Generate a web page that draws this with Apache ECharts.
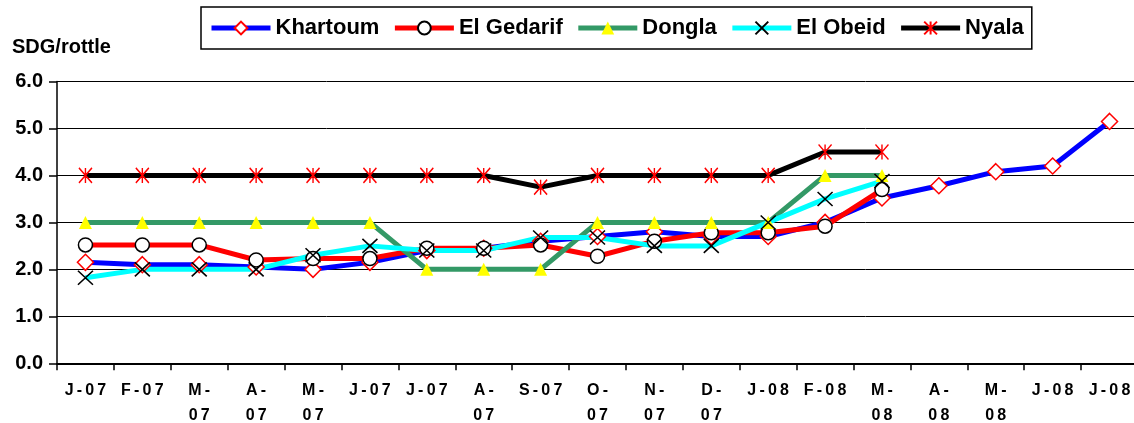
<!DOCTYPE html>
<html>
<head>
<meta charset="utf-8">
<script src="https://cdn.jsdelivr.net/npm/echarts@6/dist/echarts.min.js"></script>
<style>
  html, body { margin: 0; padding: 0; background: #fff; }
  #chart { width: 1134px; height: 423px; }
</style>
</head>
<body>
<div id="chart"></div>
<script>
// Month tick labels (wrapped where the label is too wide)
const tickLabels = ['J-07', 'F-07', 'M-\n07', 'A-\n07', 'M-\n07', 'J-07', 'J-07', 'A-\n07', 'S-07',
  'O-\n07', 'N-\n07', 'D-\n07', 'J-08', 'F-08', 'M-\n08', 'A-\n08', 'M-\n08', 'J-08', 'J-08'];

const yTicks = [0, 1, 2, 3, 4, 5, 6];

// Prices, SDG per rottle
const khartoum  = [2.15, 2.1, 2.1, 2.05, 2.0, 2.15, 2.4, 2.45, 2.6, 2.7, 2.8, 2.7, 2.7, 3.0, 3.52, 3.78, 4.08, 4.2, 5.15];
const elGedarif = [2.52, 2.52, 2.52, 2.2, 2.23, 2.23, 2.45, 2.45, 2.52, 2.28, 2.6, 2.78, 2.78, 2.92, 3.7];
const dongla    = [3, 3, 3, 3, 3, 3, 2, 2, 2, 3, 3, 3, 3, 4, 4];
const elObeid   = [1.82, 2.0, 2.0, 2.0, 2.3, 2.5, 2.4, 2.4, 2.68, 2.68, 2.5, 2.5, 3.0, 3.5, 3.88];
const nyala     = [4, 4, 4, 4, 4, 4, 4, 4, 3.75, 4, 4, 4, 4, 4.5, 4.5];

const FONT = '"Liberation Sans", Arial, sans-serif';
const spaced = s => s.split('\n').map(l => l.split('').join('\u2009')).join('\n');

const crossPath = 'path://M0,0L10,10M10,0L0,10';
const starPath = 'path://M5,0L5,10M0,0L10,10M0,10L10,0';

function lineSeries(name, data, lineColor, marker) {
  return Object.assign({
    name, type: 'line', data,
    showAllSymbol: true,
    animation: false,
    lineStyle: { color: lineColor, width: 5 },
    emphasis: { disabled: true }
  }, marker);
}

const chart = echarts.init(document.getElementById('chart'), null, { renderer: 'canvas' });
chart.setOption({
  animation: false,
  backgroundColor: '#fff',
  graphic: [{
    type: 'text', x: 12, y: 47,
    style: { text: 'SDG/rottle', fill: '#000', font: 'bold 20px ' + FONT, verticalAlign: 'middle' }
  }],
  legend: {
    left: 201, top: 7,
    padding: [10, 8],
    borderColor: '#000', borderWidth: 1.5,
    itemWidth: 59, itemHeight: 16, itemGap: 13,
    lineStyle: { width: 5 },
    textStyle: { fontFamily: FONT, fontWeight: 'bold', fontSize: 22, color: '#000' },
    data: ['Khartoum', 'El Gedarif', 'Dongla', 'El Obeid', 'Nyala']
  },
  grid: { left: 57, right: -4, top: 81.5, bottom: 59.7, containLabel: false, outerBoundsMode: 'none' },
  xAxis: {
    type: 'category',
    data: tickLabels,
    boundaryGap: true,
    axisLine: { lineStyle: { color: '#000', width: 2 } },
    axisTick: { show: true, inside: false, length: 7, lineStyle: { color: '#000', width: 1.5 } },
    axisLabel: {
      interval: 0, margin: 15,
      fontFamily: FONT, fontWeight: 'bold', fontSize: 16, lineHeight: 25, color: '#000',
      formatter: v => spaced(v)
    },
    splitLine: { show: false }
  },
  yAxis: {
    type: 'value',
    min: yTicks[0], max: yTicks[yTicks.length - 1], interval: 1,
    axisLine: { show: true, lineStyle: { color: '#000', width: 1.5 } },
    axisTick: { show: true, inside: false, length: 8, lineStyle: { color: '#000', width: 1.5 } },
    axisLabel: {
      margin: 14,
      fontFamily: FONT, fontWeight: 'bold', fontSize: 20, color: '#000',
      formatter: v => v.toFixed(1)
    },
    splitLine: { show: true, lineStyle: { color: '#000', width: 1 } }
  },
  series: [
    lineSeries('Khartoum', khartoum, '#0000ff', {
      symbol: 'diamond', symbolSize: 16,
      itemStyle: { color: '#fff', borderColor: '#ff0000', borderWidth: 1.5 }
    }),
    lineSeries('El Gedarif', elGedarif, '#ff0000', {
      symbol: 'circle', symbolSize: 14,
      itemStyle: { color: '#fff', borderColor: '#000', borderWidth: 1.5 }
    }),
    lineSeries('Dongla', dongla, '#339966', {
      symbol: 'triangle', symbolSize: 13,
      itemStyle: { color: '#ffff00', borderWidth: 0 }
    }),
    lineSeries('El Obeid', elObeid, '#00ffff', {
      symbol: crossPath, symbolSize: [15, 14],
      itemStyle: { color: '#000', borderColor: '#000', borderWidth: 1.5 }
    }),
    lineSeries('Nyala', nyala, '#000', {
      symbol: starPath, symbolSize: [13, 15],
      itemStyle: { color: '#ff0000', borderColor: '#ff0000', borderWidth: 1.5 }
    })
  ]
});
</script>
</body>
</html>
